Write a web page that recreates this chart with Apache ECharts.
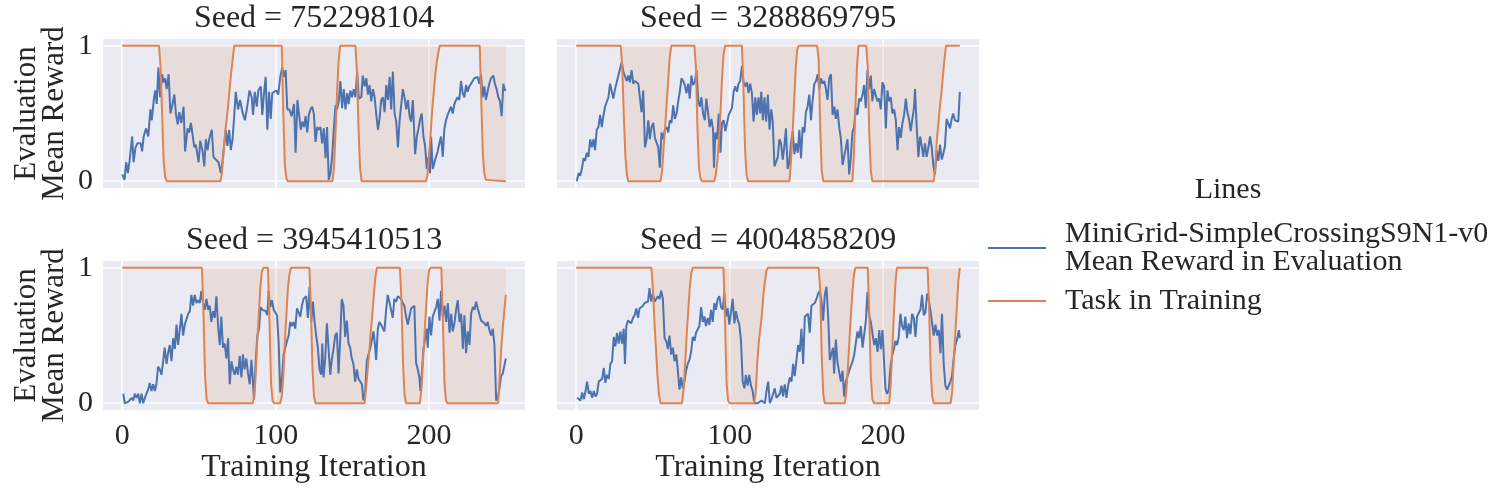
<!DOCTYPE html>
<html>
<head>
<meta charset="utf-8">
<script src="https://cdn.jsdelivr.net/npm/echarts@6/dist/echarts.min.js"></script>
<style>
  html, body { margin: 0; padding: 0; background: #fff; }
  #chart { width: 1493px; height: 492px; }
</style>
</head>
<body>
<div id="chart"></div>
<script>
// panel titles, one per seed
const seeds = ['752298104', '3288869795', '3945410513', '4004858209'];
const xTicks = [0, 100, 200];
const yTicks = [0, 1];
const rewardName = 'MiniGrid-SimpleCrossingS9N1-v0\nMean Reward in Evaluation';
const taskName = 'Task in Training';

// evaluation mean reward, [iteration, value]
const reward1 = [[0,0.05],[1.5,0.01],[2.6,0.14],[3.7,0.06],[4.8,0.15],[6.5,0.33],[7.4,0.14],[8.7,0.25],[10,0.28],[12,0.28],[13,0.22],[14,0.33],[15.6,0.39],[17,0.33],[18.4,0.53],[19.3,0.45],[20.6,0.6],[21.6,0.67],[22.5,0.57],[23.6,0.84],[24.7,0.62],[26,0.79],[27,0.73],[28,0.76],[29,0.68],[30.3,0.79],[31.4,0.5],[32.5,0.55],[34,0.64],[35,0.5],[36.2,0.42],[37.2,0.51],[38.5,0.43],[40,0.55],[41,0.22],[42.6,0.39],[43.7,0.36],[44.8,0.43],[45.9,0.42],[47,0.25],[48,0.27],[49.8,0.14],[50.9,0.3],[52.4,0.22],[53.5,0.11],[54.5,0.31],[55.6,0.23],[56.7,0.31],[58.4,0.38],[59.5,0.18],[61,0.16],[62.8,0.14],[64.3,0.06],[65.4,0.15],[66.5,0.14],[67.5,0.38],[68.6,0.26],[69.7,0.38],[70.8,0.23],[71.9,0.31],[73,0.48],[74,0.66],[75.5,0.53],[76.8,0.6],[78.4,0.51],[80,0.45],[81.6,0.56],[83,0.67],[84.4,0.62],[85.3,0.49],[86.4,0.66],[87.7,0.55],[88.7,0.67],[90.3,0.7],[91.3,0.49],[92.4,0.65],[93.5,0.77],[94.6,0.38],[95.7,0.66],[96.8,0.46],[97.8,0.65],[99,0.66],[100.4,0.67],[101.7,0.64],[103,0.77],[104.3,0.84],[105.4,0.77],[106.5,0.82],[107.6,0.53],[109,0.53],[110.4,0.48],[112,0.57],[113,0.21],[114.2,0.6],[115.3,0.49],[116.4,0.38],[117.5,0.44],[118.6,0.4],[119.5,0.48],[120.6,0.36],[121.6,0.49],[122.7,0.53],[123.8,0.55],[124.9,0.5],[126,0.29],[127.1,0.4],[128.1,0.38],[129.2,0.4],[130.3,0.28],[131.4,0.39],[132.5,0.17],[133.5,0.4],[134.6,0.01],[135.7,0.06],[136.8,0.18],[137.9,0.38],[139,0.56],[140,0.53],[141.1,0.59],[142.2,0.74],[143.3,0.54],[144.4,0.68],[145.5,0.53],[146.6,0.65],[147.6,0.57],[148.7,0.67],[149.8,0.62],[150.9,0.68],[152,0.62],[153.1,0.81],[154.2,0.61],[155.8,0.62],[156.8,0.78],[158,0.7],[159.1,0.76],[160.2,0.64],[161.2,0.71],[162.3,0.59],[163.4,0.68],[164.5,0.62],[165.6,0.49],[166.7,0.38],[167.7,0.46],[168.8,0.6],[169.9,0.62],[171,0.51],[172.1,0.71],[173.2,0.6],[174.3,0.77],[175.3,0.53],[176.4,0.81],[177.5,0.5],[178.6,0.44],[179.7,0.25],[180.8,0.45],[181.8,0.56],[182.9,0.68],[184,0.62],[185.1,0.53],[186.2,0.6],[187.3,0.48],[188.3,0.44],[189.4,0.6],[190.9,0.2],[192,0.33],[193.1,0.39],[194.2,0.46],[195.2,0.5],[196.3,0.33],[197.4,0.26],[198.5,0.09],[199.6,0.18],[200.6,0.06],[201.3,0.33],[202.4,0.09],[203.5,0.08],[204.5,0.18],[205.6,0.22],[206.7,0.28],[207.8,0.33],[208.9,0.18],[209.9,0.38],[211,0.45],[212.1,0.49],[213.2,0.48],[214.3,0.55],[215.4,0.5],[216.5,0.57],[217.6,0.6],[218.6,0.62],[219.7,0.6],[220.8,0.74],[221.9,0.65],[223,0.62],[224.1,0.71],[225.1,0.66],[226.2,0.7],[227.3,0.72],[228.4,0.74],[229.5,0.76],[230.5,0.77],[231.6,0.77],[232.7,0.72],[233.8,0.79],[234.9,0.62],[236,0.7],[237,0.6],[238.1,0.66],[239.2,0.72],[240.3,0.76],[241.8,0.78],[242.9,0.72],[244,0.68],[245.1,0.62],[246.2,0.59],[247.3,0.48],[248.4,0.72],[249.4,0.67],[250,0.68]];
const reward2 = [[0.4,0],[1.5,0.06],[2.6,0.04],[3.7,0.09],[4.8,0.17],[5.8,0.15],[6.9,0.21],[8,0.18],[9.1,0.31],[10.2,0.25],[11.3,0.31],[12.3,0.23],[13.4,0.38],[14.5,0.4],[15.6,0.49],[16.7,0.4],[17.7,0.48],[18.8,0.55],[19.9,0.55],[21,0.62],[22.1,0.72],[23.2,0.66],[24.2,0.61],[25.3,0.68],[26.4,0.67],[27.5,0.78],[28.6,0.79],[29.7,0.88],[30.7,0.81],[31.8,0.82],[32.9,0.74],[34,0.78],[35,0.73],[36.1,0.82],[37.2,0.72],[38.3,0.74],[39.4,0.73],[40.5,0.72],[41.5,0.62],[42.6,0.51],[43.7,0.67],[44.8,0.25],[45.9,0.31],[47,0.45],[48,0.31],[49.1,0.4],[50.2,0.43],[51.3,0.32],[52.4,0.32],[53.5,0.25],[54.5,0.1],[55.6,0.36],[56.7,0.31],[57.8,0.38],[58.9,0.4],[60,0.36],[61,0.45],[62.1,0.43],[63.2,0.56],[64.3,0.46],[65.4,0.5],[66.5,0.59],[67.5,0.66],[68.6,0.76],[69.7,0.74],[70.8,0.71],[71.9,0.65],[73,0.72],[74,0.61],[75.1,0.78],[76.2,0.71],[77.3,0.73],[78.4,0.82],[79.5,0.6],[80.6,0.55],[81.6,0.62],[82.7,0.5],[83.8,0.45],[84.8,0.61],[85.9,0.51],[87,0.4],[88.1,0.46],[89.2,0.38],[89.8,0.1],[90.7,0.36],[91.8,0.31],[92.9,0.5],[94,0.21],[95,0.43],[96.1,0.45],[97.2,0.37],[98.3,0.38],[99.4,0.49],[100.4,0.48],[101.5,0.54],[102.6,0.66],[103.7,0.7],[104.8,0.66],[105.8,0.72],[106.9,0.74],[108,0.85],[109.1,0.73],[110.2,0.7],[111.3,0.73],[112.3,0.65],[113.4,0.72],[114.5,0.65],[115.6,0.44],[116.7,0.62],[117.7,0.49],[118.8,0.62],[119.9,0.5],[120.6,0.66],[121.7,0.45],[122.7,0.62],[123.8,0.44],[124.9,0.64],[126,0.38],[127.1,0.53],[128.1,0.44],[129.2,0.11],[130.3,0.12],[131.4,0.18],[132.4,0.31],[133.5,0.28],[134.6,0.16],[135.6,0.25],[136.7,0.39],[137.8,0.09],[138.9,0.14],[140,0.28],[141.1,0.37],[142.2,0.2],[143.3,0.28],[144.4,0.21],[145.4,0.38],[146.5,0.17],[147.6,0.4],[148.7,0.36],[149.7,0.51],[150.8,0.55],[151.9,0.64],[153,0.45],[154,0.59],[155.2,0.72],[156.3,0.74],[157.4,0.79],[158.4,0.68],[159.5,0.76],[160.6,0.72],[161.7,0.74],[162.8,0.68],[163.8,0.6],[164.9,0.76],[166,0.79],[167.1,0.49],[168.2,0.55],[169.2,0.46],[170.3,0.53],[171.4,0.4],[172.5,0.31],[173.6,0.12],[174.6,0.18],[175.7,0.17],[176.8,0.31],[177.9,0.05],[178.9,0.16],[180,0.36],[181.1,0.4],[182.2,0.54],[183.3,0.49],[184.4,0.61],[185.5,0.59],[186.6,0.64],[187.6,0.71],[188.7,0.54],[189.8,0.82],[190.9,0.68],[192,0.78],[193,0.59],[194.1,0.68],[195.2,0.67],[196.3,0.59],[197.4,0.61],[198.5,0.53],[199.6,0.73],[200.7,0.7],[201.8,0.39],[202.8,0.67],[203.9,0.59],[205,0.62],[206.1,0.5],[207.2,0.53],[208.3,0.45],[209.4,0.23],[210.4,0.4],[211.5,0.32],[212.6,0.43],[213.7,0.49],[214.8,0.61],[215.8,0.51],[216.9,0.46],[218,0.37],[219.1,0.46],[220.2,0.55],[220.8,0.68],[221.9,0.4],[223,0.18],[224.1,0.33],[225.2,0.26],[226.2,0.18],[227.3,0.28],[228.4,0.18],[229.5,0.25],[230.6,0.33],[231.7,0.25],[232.8,0.11],[233.8,0.05],[234.9,0.23],[236,0.15],[237.1,0.27],[238.2,0.16],[239.2,0.2],[240.3,0.26],[241.4,0.46],[242.5,0.45],[243.6,0.39],[244.7,0.46],[245.7,0.5],[246.8,0.45],[247.9,0.45],[249,0.44],[250,0.66]];
const reward3 = [[0.7,0.07],[1.7,0],[2.8,0],[3.9,0.01],[5,0.02],[6.1,0.04],[7.2,0.02],[8.2,0.07],[9.3,0.04],[10.4,0.07],[11.5,0],[12.6,0.07],[13.7,0],[14.8,0.04],[15.8,0.07],[16.9,0.1],[18,0.15],[19.1,0.09],[20.2,0.14],[21.3,0.09],[22.3,0.14],[23.4,0.27],[24.5,0.25],[25.6,0.21],[26.7,0.31],[27.7,0.41],[28.9,0.29],[29.9,0.37],[31,0.43],[32.1,0.31],[33.2,0.48],[34.3,0.4],[35.4,0.58],[36.4,0.43],[37.5,0.54],[38.6,0.66],[39.7,0.5],[40.8,0.58],[41.9,0.59],[43,0.66],[44.1,0.68],[45.1,0.8],[46.2,0.72],[47.3,0.8],[48.4,0.74],[49.5,0.76],[50.6,0.74],[51.6,0.83],[52.7,0.74],[53.8,0.69],[54.9,0.77],[56,0.69],[57,0.72],[58.1,0.6],[59.2,0.68],[60.3,0.63],[61.4,0.79],[62.5,0.57],[63.6,0.43],[64.6,0.64],[65.7,0.41],[66.8,0.44],[67.9,0.33],[69,0.48],[70.1,0.14],[71.2,0.31],[72.2,0.25],[73.3,0.21],[74.4,0.27],[75.5,0.21],[76.6,0.35],[77.7,0.19],[78.7,0.36],[79.8,0.25],[80.9,0.33],[82,0.22],[83.1,0.14],[84.2,0.32],[85.2,0.16],[85.9,0.03],[87,0.31],[88.1,0.5],[89.2,0.55],[90.2,0.71],[91.3,0.69],[92.4,0.69],[93.5,0.68],[94.6,0.65],[95.4,0.83],[96.5,0.71],[97.6,0.76],[98.7,0.69],[99.8,0.7],[100.9,0.65],[102,0.44],[103,0.08],[104.1,0.18],[105.2,0.36],[106.3,0.37],[107.4,0.46],[108.5,0.5],[109.5,0.6],[110.6,0.57],[111.7,0.6],[112.8,0.55],[113.9,0.7],[115,0.69],[116.1,0.64],[117.1,0.72],[118.2,0.77],[119.9,0.79],[121,0.63],[122.1,0.86],[123.2,0.6],[124.3,0.75],[125.4,0.6],[126.4,0.5],[127.5,0.41],[128.6,0.25],[129.7,0.21],[130.4,0.44],[131.2,0.19],[132.3,0.33],[133.4,0.59],[134.5,0.59],[135.6,0.21],[136.6,0.32],[137.7,0.4],[138.8,0.5],[139.9,0.52],[141,0.22],[142.1,0.48],[143.1,0.77],[144.2,0.72],[145.3,0.49],[146.4,0.61],[147.5,0.44],[148.6,0.41],[149.6,0.33],[150.7,0.29],[151.8,0.16],[152.9,0.25],[154,0.18],[155.1,0.18],[156.2,0.14],[157.2,0.02],[158.3,0.08],[159.4,0.31],[160.5,0.36],[161.6,0.4],[162.7,0.41],[163.8,0.53],[164.8,0.42],[165.5,0.32],[166.6,0.55],[167.6,0.6],[168.7,0.58],[169.8,0.58],[170.9,0.53],[172,0.69],[173.1,0.8],[174.1,0.75],[175.2,0.75],[176.3,0.63],[177.4,0.77],[178.5,0.75],[179.6,0.79],[180.7,0.8],[181.7,0.77],[182.8,0.74],[183.9,0.72],[185,0.64],[186.1,0.58],[187.2,0.57],[188.3,0.7],[189.3,0.71],[190.4,0.72],[191.5,0.3],[192.6,0.25],[193.7,0.19],[194.3,0.09],[195.2,0.21],[196.3,0.4],[197.4,0.47],[198.5,0.55],[199.1,0.41],[200.2,0.64],[201.3,0.5],[202.4,0.64],[203.5,0.63],[204.6,0.71],[205.7,0.77],[206.8,0.61],[207.8,0.83],[208.9,0.64],[210,0.72],[211.1,0.6],[212.2,0.74],[213.3,0.52],[214.4,0.66],[215.4,0.53],[216.5,0.59],[217.6,0.69],[218.7,0.76],[219.8,0.6],[220.9,0.66],[222,0.4],[223,0.65],[224.1,0.37],[225.2,0.53],[226.3,0.43],[227.4,0.66],[228.5,0.71],[229.6,0.69],[230.6,0.75],[231.7,0.7],[232.8,0.71],[233.9,0.61],[235,0.6],[236.1,0.59],[237.2,0.57],[238.2,0.6],[239.3,0.54],[240.4,0.5],[241.5,0.55],[242.6,0.43],[243.7,0.02],[244.8,0.04],[245.9,0.11],[246.9,0.2],[248,0.22],[249.1,0.22],[250,0.33]];
const reward4 = [[0.6,0.04],[1.7,0.05],[2.8,0.02],[3.9,0.08],[5,0.03],[6.1,0.09],[7.1,0.16],[8.2,0.07],[9.3,0.09],[10.4,0.04],[11.5,0.09],[12.6,0.05],[13.6,0.07],[14.7,0.16],[15.8,0.16],[16.9,0.18],[18,0.26],[19,0.15],[20.1,0.21],[21.2,0.18],[22.3,0.29],[23.4,0.31],[24.5,0.49],[25.5,0.42],[26.6,0.52],[27.7,0.44],[28.8,0.53],[29.9,0.44],[31,0.55],[31.8,0.29],[32.7,0.57],[33.8,0.61],[34.9,0.6],[35.9,0.59],[37,0.63],[38.1,0.65],[39.2,0.7],[40.3,0.63],[41.3,0.7],[42.4,0.7],[43.5,0.72],[44.6,0.74],[45.7,0.74],[46.8,0.75],[47.8,0.85],[48.9,0.75],[50,0.81],[51.1,0.75],[52.2,0.76],[53.2,0.79],[54.3,0.77],[55.4,0.83],[56.5,0.77],[57.6,0.48],[58.7,0.46],[59.7,0.4],[60.8,0.5],[61.9,0.36],[63,0.41],[64.1,0.31],[65.2,0.36],[66.2,0.25],[67.3,0.1],[68.4,0.19],[69.5,0.11],[70.6,0.16],[71.6,0.24],[72.7,0.29],[73.8,0.32],[74.9,0.38],[76,0.49],[77.1,0.46],[78.1,0.52],[79.2,0.53],[80.3,0.57],[81.4,0.71],[82.5,0.6],[83.5,0.64],[84.6,0.57],[85.7,0.63],[86.8,0.58],[87.9,0.69],[89,0.6],[90,0.74],[91.1,0.69],[92.2,0.77],[93.3,0.79],[94.4,0.71],[95.5,0.69],[96.5,0.82],[97.6,0.64],[98.7,0.7],[99.8,0.58],[100.9,0.58],[102,0.77],[103.1,0.59],[104.1,0.68],[105.2,0.62],[106.3,0.58],[107.4,0.46],[108.5,0.16],[109.6,0.11],[110.6,0.21],[111.7,0.13],[112.8,0.21],[113.9,0.13],[115,0.09],[116.1,0],[117.2,0],[118.3,0],[119.3,0],[120.8,0.02],[121.9,0.03],[123,0],[124,0.09],[125.1,0.16],[126.2,0],[127.3,0.03],[128.4,0.04],[129.4,0.11],[130.5,0.04],[131.6,0.05],[132.7,0.07],[133.8,0.13],[134.8,0.05],[135.9,0.14],[137,0.04],[138.1,0.13],[139.2,0.19],[140.3,0.16],[141.4,0.29],[142.4,0.2],[143.5,0.31],[144.6,0.43],[145.7,0.38],[146.8,0.55],[147.9,0.29],[149,0.64],[150.1,0.63],[151.1,0.66],[152.2,0.52],[153.3,0.72],[154.4,0.71],[155.5,0.74],[156.6,0.77],[157.7,0.81],[158.8,0.83],[159.8,0.76],[160.9,0.61],[162,0.8],[163.1,0.86],[164.2,0.64],[165.3,0.32],[166.4,0.33],[167.4,0.41],[168.1,0.22],[169.2,0.47],[170.3,0.3],[171.4,0.31],[172.5,0.16],[173.6,0.24],[174.6,0.05],[175.7,0.16],[176.8,0.2],[177.9,0.24],[179,0.25],[180.1,0.31],[181.2,0.36],[182.3,0.37],[183.3,0.53],[184.4,0.48],[185.5,0.57],[186.6,0.41],[187.7,0.42],[188.8,0.61],[189.8,0.82],[190.9,0.65],[192,0.6],[193.1,0.6],[194.2,0.43],[195.3,0.48],[196.4,0.38],[197.5,0.54],[198.5,0.4],[199.6,0.54],[200.4,0.36],[201.5,0.11],[202.6,0.07],[203.7,0.1],[204.8,0.27],[205.9,0.35],[207,0.4],[208.1,0.46],[209.1,0.43],[210.2,0.49],[211.3,0.66],[212.4,0.57],[213.5,0.54],[214.5,0.64],[215.6,0.48],[216.7,0.59],[217.8,0.51],[218.9,0.66],[220,0.63],[221.1,0.49],[222.1,0.64],[223.2,0.63],[224.3,0.69],[225.4,0.8],[226.5,0.65],[227.6,0.67],[228.7,0.81],[229.8,0.76],[230.8,0.69],[231.9,0.68],[233,0.5],[234.1,0.58],[235.2,0.5],[236.3,0.54],[237.4,0.37],[238.4,0.66],[239.5,0.29],[240.6,0.13],[241.7,0.1],[242.8,0.1],[243.9,0.16],[244.9,0.2],[246,0.33],[247.1,0.43],[248.2,0.47],[249.4,0.54],[250,0.48]];

// task in training (1 = this task), [iteration, value]
const task1 = [[0,1],[24,1],[25,0.85],[26,0.5],[27,0.15],[28,0.03],[29,0],[64,0],[65,0.06],[66,0.2],[67,0.35],[68,0.45],[69,0.55],[70,0.68],[71,0.8],[72,0.9],[73,1],[104,1],[105,0.5],[106,0.12],[107,0.02],[108,0],[137,0],[138,0.1],[139,0.35],[140,0.65],[141,0.88],[142,1],[152,1],[153,0.8],[154,0.4],[155,0.1],[156,0],[198,0],[199,0.05],[200,0.2],[201,0.35],[202,0.52],[203,0.65],[204,0.78],[205,0.88],[206,0.95],[207,1],[233,1],[234,0.6],[235,0.2],[236,0.06],[237,0.01],[238,0],[250,0]];
const task2 = [[0,1],[29,1],[30,0.85],[31,0.5],[32,0.2],[33,0.05],[34,0],[55,0],[56,0.08],[57,0.25],[58,0.4],[59,0.58],[60,0.75],[61,0.92],[62,1],[77,1],[78,0.85],[79,0.4],[80,0.1],[81,0.02],[82,0],[90,0],[91,0.05],[92,0.15],[93,0.3],[94,0.5],[95,0.75],[96,0.93],[97,1],[108,1],[109,0.7],[110,0.25],[111,0.05],[112,0],[139,0],[140,0.15],[141,0.35],[142,0.58],[143,0.82],[144,0.97],[145,1],[157,1],[158,0.9],[159,0.4],[160,0.08],[161,0],[180,0],[181,0.2],[182,0.55],[183,0.85],[184,1],[189,1],[190,0.85],[191,0.35],[192,0.08],[193,0],[233,0],[234,0.1],[235,0.3],[236,0.42],[237,0.55],[238,0.65],[239,0.78],[240,0.9],[241,1],[250,1]];
const task3 = [[0,1],[52,1],[53,0.65],[54,0.2],[55,0.03],[56,0],[85,0],[86,0.05],[87,0.2],[88,0.45],[89,0.65],[90,0.85],[91,0.97],[92,1],[95,1],[96,0.6],[97,0.15],[98,0.02],[99,0],[103,0],[104,0.05],[105,0.2],[106,0.45],[107,0.65],[108,0.85],[109,0.95],[110,1],[122,1],[123,0.7],[124,0.25],[125,0.05],[126,0],[158,0],[159,0.12],[160,0.25],[161,0.38],[162,0.52],[163,0.66],[164,0.8],[165,0.93],[166,1],[181,1],[182,0.75],[183,0.3],[184,0.06],[185,0],[194,0],[195,0.1],[196,0.3],[197,0.5],[198,0.7],[199,0.88],[200,0.98],[201,1],[208,1],[209,0.6],[210,0.15],[211,0.02],[212,0],[245,0],[246,0.2],[247,0.4],[248,0.55],[249,0.68],[250,0.8]];
const task4 = [[0,1],[49,1],[50,0.85],[51,0.6],[52,0.4],[53,0.2],[54,0.06],[55,0],[69,0],[70,0.1],[71,0.3],[72,0.5],[73,0.68],[74,0.85],[75,0.96],[76,1],[96,1],[97,0.6],[98,0.15],[99,0.02],[100,0],[116,0],[117,0.08],[118,0.3],[119,0.45],[120,0.55],[121,0.65],[122,0.8],[123,0.9],[124,0.98],[125,1],[158,1],[159,0.85],[160,0.35],[161,0.07],[162,0],[175,0],[176,0.08],[177,0.25],[178,0.45],[179,0.65],[180,0.82],[181,0.95],[182,1],[190,1],[191,0.65],[192,0.2],[193,0.03],[194,0],[204,0],[205,0.15],[206,0.4],[207,0.65],[208,0.88],[209,1],[229,1],[230,0.7],[231,0.25],[232,0.05],[233,0],[244,0],[245,0.08],[246,0.3],[247,0.5],[248,0.7],[249,0.9],[250,1]];

const rewards = [reward1, reward2, reward3, reward4];
const tasks = [task1, task2, task3, task4];

const FONT = '"Liberation Serif", "DejaVu Serif", serif';
const TEXT = '#262626';
const BLUE = '#4C72B0';
const ORANGE = '#DD8452';

// panel boxes in px: [left, top]
const panelPos = [[103, 39], [557, 39], [103, 261], [557, 261]];
const panelW = 422, panelH = 149;

const chart = echarts.init(document.getElementById('chart'));

const grids = [], xAxes = [], yAxes = [], series = [], texts = [];
for (let i = 0; i < 4; i++) {
  const [l, t] = panelPos[i];
  const bottomRow = i >= 2, leftCol = i % 2 === 0;
  grids.push({ left: l, top: t, width: panelW, height: panelH, show: true,
    backgroundColor: '#EAEAF2', borderWidth: 0 });
  xAxes.push({
    type: 'value', gridIndex: i, min: -12.5, max: 262.5,
    axisLine: { show: false },
    axisTick: { show: false, customValues: xTicks },
    axisLabel: { show: bottomRow, customValues: xTicks, margin: 11,
      fontFamily: FONT, fontSize: 30, color: TEXT },
    splitLine: { show: true, lineStyle: { color: '#fff', width: 1.5 } },
    name: bottomRow ? 'Training Iteration' : '', nameLocation: 'middle', nameGap: 41,
    nameTextStyle: { fontFamily: FONT, fontSize: 32, color: TEXT }
  });
  yAxes.push({
    type: 'value', gridIndex: i, min: -0.05, max: 1.05,
    axisLine: { show: false },
    axisTick: { show: false, customValues: yTicks },
    axisLabel: { show: leftCol, customValues: yTicks, margin: 10,
      fontFamily: FONT, fontSize: 30, color: TEXT },
    splitLine: { show: true, lineStyle: { color: '#fff', width: 1.5 } },
    name: leftCol ? 'Evaluation\nMean Reward' : '', nameLocation: 'middle', nameGap: 34,
    nameRotate: 90,
    nameTextStyle: { fontFamily: FONT, fontSize: 31, lineHeight: 28, color: TEXT }
  });
  // shaded band between task line and 1
  series.push({
    type: 'line', xAxisIndex: i, yAxisIndex: i, data: tasks[i], symbol: 'none',
    silent: true, lineStyle: { width: 0, opacity: 0 },
    areaStyle: { color: 'rgba(221,132,82,0.2)', origin: 1 }, z: 1
  });
  series.push({
    name: rewardName, type: 'line', xAxisIndex: i, yAxisIndex: i, data: rewards[i],
    symbol: 'none', color: BLUE, lineStyle: { color: BLUE, width: 2 }, z: 2
  });
  series.push({
    name: taskName, type: 'line', xAxisIndex: i, yAxisIndex: i, data: tasks[i],
    symbol: 'none', color: ORANGE, lineStyle: { color: ORANGE, width: 2 }, z: 3
  });
  texts.push({
    type: 'text', x: l + panelW / 2, y: t - 20,
    style: { text: 'Seed = ' + seeds[i], fontFamily: FONT, fontSize: 32, fill: TEXT,
      textAlign: 'center', textVerticalAlign: 'middle' }
  });
}
texts.push({
  type: 'text', x: 1228, y: 190,
  style: { text: 'Lines', fontFamily: FONT, fontSize: 30, fill: TEXT,
    textAlign: 'center', textVerticalAlign: 'middle' }
});

chart.setOption({
  animation: false,
  grid: grids,
  xAxis: xAxes,
  yAxis: yAxes,
  series: series,
  legend: {
    data: [rewardName, taskName],
    orient: 'vertical', left: 982, top: 214,
    itemWidth: 58, itemHeight: 2, itemGap: 9,
    itemStyle: { opacity: 0 },
    textStyle: { fontFamily: FONT, fontSize: 30, lineHeight: 28, color: TEXT,
      padding: [0, 0, 0, 14] }
  },
  graphic: texts
});
</script>
</body>
</html>
